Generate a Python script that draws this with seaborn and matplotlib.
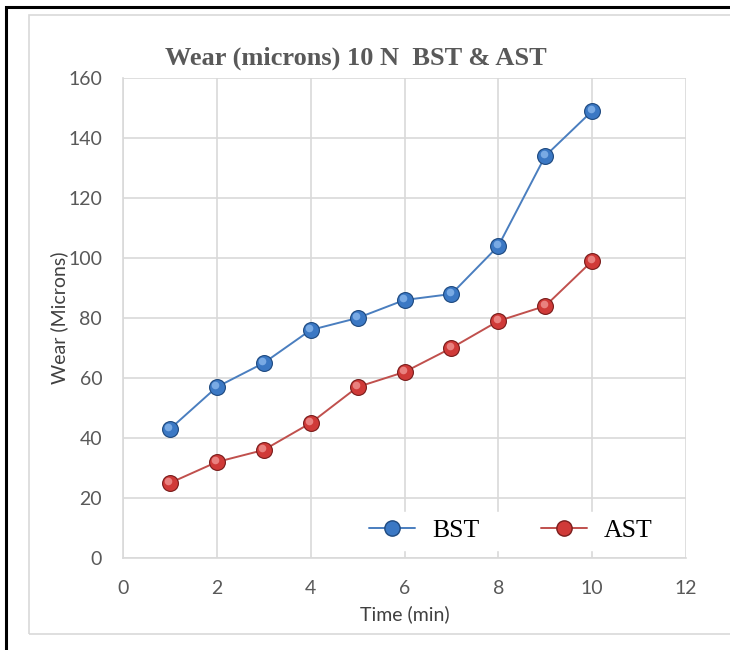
import matplotlib
matplotlib.use("Agg")
import matplotlib.pyplot as plt
import matplotlib.patches as mpatches
from matplotlib.lines import Line2D
import seaborn as sns
import pandas as pd

# Wear measurements at 10 N load
time_min = [1, 2, 3, 4, 5, 6, 7, 8, 9, 10]
wear_bst = [43, 57, 65, 76, 80, 86, 88, 104, 134, 149]
wear_ast = [25, 32, 36, 45, 57, 62, 70, 79, 84, 99]
series_names = ["BST", "AST"]
x_ticks = [0, 2, 4, 6, 8, 10, 12]
y_ticks = [0, 20, 40, 60, 80, 100, 120, 140, 160]

df = pd.concat([
    pd.DataFrame({"Time": time_min, "Wear": wear_bst, "Series": series_names[0]}),
    pd.DataFrame({"Time": time_min, "Wear": wear_ast, "Series": series_names[1]}),
])

sns.set_theme(style="white")
plt.rcParams["font.family"] = ["Lato", "DejaVu Sans"]

line_colors = {"BST": "#4a7ebf", "AST": "#c0504d"}
ball_colors = {"BST": "#3b78c4", "AST": "#d03a38"}
ball_edges = {"BST": "#1f4a80", "AST": "#7a1d1c"}
ball_lights = {"BST": "#8fbbef", "AST": "#f29a98"}

fig = plt.figure(figsize=(7.3, 6.5), dpi=100)
# outer frame and inner chart border
fig.add_artist(mpatches.Rectangle((6 / 730, -0.02), 1.2, 1 - 7 / 650 + 0.02,
                                  transform=fig.transFigure, fill=False,
                                  edgecolor="black", linewidth=2.2))
fig.add_artist(mpatches.Rectangle((29 / 730, 1 - 634 / 650), 1.2, (634 - 15) / 650,
                                  transform=fig.transFigure, fill=False,
                                  edgecolor="#d9d9d9", linewidth=1.2))

ax = fig.add_axes([123 / 730, 1 - 558 / 650, (686 - 123) / 730, (558 - 78) / 650])

sns.lineplot(data=df, x="Time", y="Wear", hue="Series", palette=line_colors,
             linewidth=1.4, ax=ax, legend=False, zorder=3)

# sphere-like markers: dark base, body, and a soft highlight
for name, vals in zip(series_names, [wear_bst, wear_ast]):
    ax.scatter(time_min, vals, s=150, color=ball_edges[name], zorder=4, linewidths=0)
    ax.scatter(time_min, vals, s=112, color=ball_colors[name], zorder=5, linewidths=0)
    ax.scatter([t - 0.035 for t in time_min], [v + 0.8 for v in vals], s=30,
               color=ball_lights[name], zorder=6, linewidths=0, alpha=0.75)

ax.set_xlim(0, 12)
ax.set_ylim(0, 160)
ax.set_xticks(x_ticks)
ax.set_yticks(y_ticks)
ax.grid(True, color="#d9d9d9", linewidth=1.2)
ax.set_axisbelow(True)
for side in ["top", "right"]:
    ax.spines[side].set_visible(False)
for side in ["left", "bottom"]:
    ax.spines[side].set_color("#d9d9d9")
    ax.spines[side].set_linewidth(1.2)
    ax.spines[side].set_zorder(2.5)
ax.tick_params(axis="both", length=0, labelsize=14, labelcolor="#595959")
ax.tick_params(axis="x", pad=16)
ax.tick_params(axis="y", pad=15)
ax.set_xlabel("Time (min)", fontsize=14, color="#404040", labelpad=6)
ax.set_ylabel("Wear (Microns)", fontsize=14, color="#404040", labelpad=0)

ax.set_title("Wear (microns) 10 N  BST & AST", family=["Liberation Serif", "DejaVu Serif"],
             fontsize=19, fontweight="bold", color="#595959", x=0.414, pad=10)

handles = [
    Line2D([0], [0], color=line_colors[n], linewidth=1.4, marker="o", markersize=11,
           markerfacecolor=ball_colors[n], markeredgecolor=ball_edges[n], markeredgewidth=1)
    for n in series_names
]
leg = ax.legend(handles, series_names, loc="lower right", bbox_to_anchor=(0.977, -0.01),
                ncol=2, frameon=True, fancybox=False, framealpha=1.0, edgecolor="white",
                prop={"family": ["Liberation Serif", "DejaVu Serif"], "size": 18.5},
                handlelength=1.8, columnspacing=2.4, handletextpad=0.65, borderpad=0.3,
                labelcolor="black")
leg.set_zorder(2.4)

fig.savefig("out.png", dpi=100)
